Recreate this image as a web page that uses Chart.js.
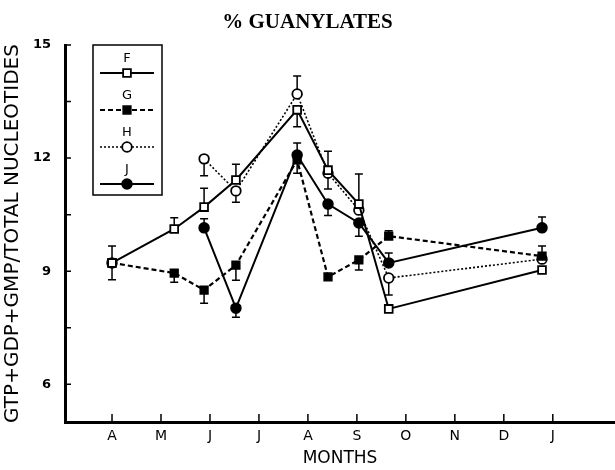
<!DOCTYPE html>
<html>
<head>
<meta charset="utf-8">
<script src="https://cdn.jsdelivr.net/npm/chart.js@4"></script>
<style>
  body { margin: 0; background: #fff; }
  canvas { display: block; }
</style>
</head>
<body>
<canvas id="chart" width="615" height="470"></canvas>
<script>
const chartTitle = "% GUANYLATES";
const yTitle = "GTP+GDP+GMP/TOTAL NUCLEOTIDES";
const xTitle = "MONTHS";
const monthLabels = ["A", "M", "J", "J", "A", "S", "O", "N", "D", "J"];
const yTickValues = [6, 7.5, 9, 10.5, 12, 13.5, 15];
const yLabelValues = [6, 9, 12, 15];

// sampling dates, in months after the April tick
const sampleMonths = [0, 1.27, 1.88, 2.53, 3.78, 4.41, 5.04, 5.65, 8.78];

const seriesNames = ["F", "G", "H", "J"];
const valuesF = [9.22, 10.12, 10.70, 11.42, 13.28, 11.68, 10.78, 8.00, 9.03];
const valuesG = [9.22, 8.95, 8.50, 9.16, 11.95, 8.85, 9.30, 9.93, 9.40];
const valuesH = [null, null, 11.98, 11.13, 13.70, 11.60, 10.62, 8.82, 9.32];
const valuesJ = [9.22, null, 10.15, 8.02, 12.08, 10.78, 10.28, 9.22, 10.15];

// error bars as [below, above]
const errF = [[0.45, 0.45], [0, 0.3], [0, 0.5], [0, 0.42], [0.45, 0], [0.5, 0.5], [0, 0.8], null, null];
const errG = [null, [0.24, 0], [0.35, 0], [0.4, 0], [0.35, 0], null, [0.27, 0], [0, 0.14], [0, 0.27]];
const errH = [null, null, [0.45, 0], [0.3, 0], [0, 0.48], null, null, [0.45, 0], null];
const errJ = [null, null, [0, 0.24], [0.24, 0], [0, 0.32], [0.3, 0], [0.35, 0], [0, 0.26], [0, 0.29]];

const toPoints = vals => sampleMonths.map((m, i) => ({ x: m, y: vals[i] }));

const extras = {
  id: "extras",
  beforeDraw(chart) {
    const ctx = chart.ctx;
    ctx.save();
    ctx.fillStyle = "#fff";
    ctx.fillRect(0, 0, chart.width, chart.height);
    ctx.restore();
  },
  beforeDatasetsDraw(chart) {
    const { ctx, scales: { x, y } } = chart;
    ctx.save();
    ctx.strokeStyle = "#000";
    ctx.lineWidth = 1.5;
    chart.data.datasets.forEach(ds => {
      ds.errors.forEach((e, i) => {
        if (!e) return;
        const v = ds.data[i].y;
        const px = x.getPixelForValue(ds.data[i].x);
        const lo = y.getPixelForValue(v - e[0]);
        const hi = y.getPixelForValue(v + e[1]);
        ctx.beginPath();
        ctx.moveTo(px, lo); ctx.lineTo(px, hi);
        if (e[0]) { ctx.moveTo(px - 4, lo); ctx.lineTo(px + 4, lo); }
        if (e[1]) { ctx.moveTo(px - 4, hi); ctx.lineTo(px + 4, hi); }
        ctx.stroke();
      });
    });
    // inward tick marks
    ctx.lineWidth = 1.5;
    const area = chart.chartArea;
    ctx.beginPath();
    x.ticks.forEach(t => {
      const px = x.getPixelForValue(t.value);
      ctx.moveTo(px, area.bottom); ctx.lineTo(px, area.bottom - 8);
    });
    y.ticks.forEach(t => {
      const py = y.getPixelForValue(t.value);
      ctx.moveTo(area.left, py); ctx.lineTo(area.left + 6, py);
    });
    ctx.stroke();
    ctx.restore();
  },
  afterDraw(chart) {
    const ctx = chart.ctx;
    ctx.save();
    ctx.strokeStyle = "#000";
    ctx.lineWidth = 1.5;
    ctx.strokeRect(93, 45, 69, 150);
    ctx.font = "13px 'DejaVu Sans'";
    ctx.textAlign = "center";
    ctx.textBaseline = "middle";
    chart.data.datasets.forEach((ds, i) => {
      const ly = 59 + i * 37;
      const sy = 73 + i * 37;
      ctx.fillStyle = "#000";
      ctx.fillText(ds.label, 127, ly);
      ctx.beginPath();
      ctx.setLineDash(ds.borderDash || []);
      ctx.lineWidth = ds.borderWidth;
      ctx.moveTo(100, sy); ctx.lineTo(154, sy);
      ctx.stroke();
      ctx.setLineDash([]);
      ctx.lineWidth = ds.pointBorderWidth;
      ctx.fillStyle = ds.pointBackgroundColor;
      Chart.helpers.drawPoint(ctx, {
        pointStyle: ds.pointStyle, radius: ds.pointRadius,
        rotation: 0, borderWidth: ds.pointBorderWidth
      }, 127, sy);
    });
    ctx.restore();
  }
};

new Chart(document.getElementById("chart"), {
  type: "line",
  data: {
    datasets: [
      {
        label: seriesNames[0], data: toPoints(valuesF), errors: errF,
        borderColor: "#000", borderWidth: 2,
        pointStyle: "rect", pointRadius: 5.5,
        pointBackgroundColor: "#fff", pointBorderColor: "#000", pointBorderWidth: 1.8
      },
      {
        label: seriesNames[1], data: toPoints(valuesG), errors: errG,
        borderColor: "#000", borderWidth: 2.2, borderDash: [5, 3],
        pointStyle: "rect", pointRadius: 5.5,
        pointBackgroundColor: "#000", pointBorderColor: "#000", pointBorderWidth: 1.5
      },
      {
        label: seriesNames[2], data: toPoints(valuesH), errors: errH,
        borderColor: "#000", borderWidth: 1.6, borderDash: [2, 2],
        pointStyle: "circle", pointRadius: 4.8,
        pointBackgroundColor: "#fff", pointBorderColor: "#000", pointBorderWidth: 1.8
      },
      {
        label: seriesNames[3], data: toPoints(valuesJ), errors: errJ,
        borderColor: "#000", borderWidth: 2,
        pointStyle: "circle", pointRadius: 5,
        pointBackgroundColor: "#000", pointBorderColor: "#000", pointBorderWidth: 1.5
      }
    ]
  },
  options: {
    responsive: false,
    animation: false,
    layout: { autoPadding: false, padding: { left: 0, right: 0, top: 0, bottom: 0 } },
    elements: { line: { tension: 0 } },
    plugins: {
      legend: { display: false },
      tooltip: { enabled: false },
      title: {
        display: true, text: chartTitle, color: "#000",
        font: { family: "'Liberation Serif'", size: 21, weight: "bold" },
        padding: { top: 10, bottom: 9.8 }
      }
    },
    scales: {
      x: {
        type: "linear", min: -0.96, max: 10.27,
        afterBuildTicks: a => { a.ticks = monthLabels.map((_, i) => ({ value: i })); },
        afterFit: s => { s.height = 48; },
        ticks: {
          callback: v => monthLabels[v], color: "#000", padding: 6,
          maxRotation: 0, autoSkip: false,
          font: { family: "'DejaVu Sans'", size: 14 }
        },
        grid: { display: false, drawTicks: false },
        border: { display: true, color: "#000", width: 3 },
        title: {
          display: true, text: xTitle, color: "#000",
          font: { family: "'DejaVu Sans'", size: 17 },
          padding: { top: 0, bottom: 1 }
        }
      },
      y: {
        min: 5, max: 15,
        afterBuildTicks: a => { a.ticks = yTickValues.map(v => ({ value: v })); },
        afterFit: s => { s.width = 65; },
        ticks: {
          callback: v => yLabelValues.includes(v) ? String(v) : "",
          color: "#000", padding: 14,
          font: { family: "'DejaVu Sans'", size: 13, weight: "bold" }
        },
        grid: { display: false, drawTicks: false },
        border: { display: true, color: "#000", width: 3 },
        title: {
          display: true, text: yTitle, color: "#000",
          font: { family: "'DejaVu Sans'", size: 20 },
          padding: { top: 1, bottom: 0 }
        }
      }
    }
  },
  plugins: [extras]
});
</script>
</body>
</html>
